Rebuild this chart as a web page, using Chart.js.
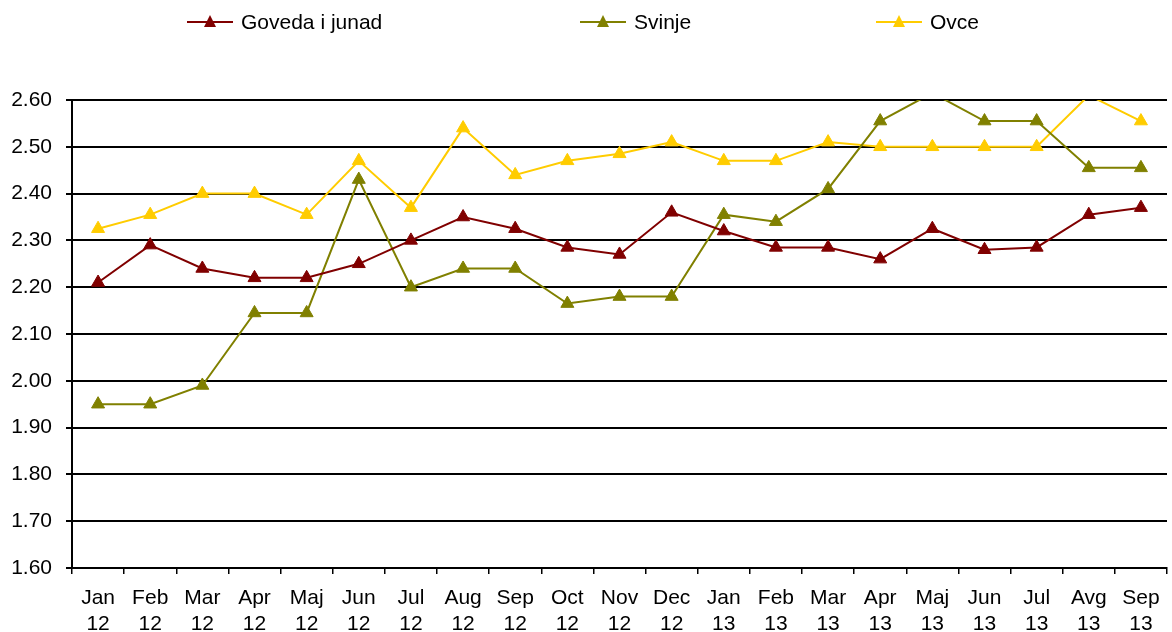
<!DOCTYPE html>
<html>
<head>
<meta charset="utf-8">
<script src="https://cdn.jsdelivr.net/npm/chart.js@4.4.0/dist/chart.umd.min.js"></script>
<style>
  body { margin: 0; background: #fff; }
  #wrap { width: 1172px; height: 632px; }
</style>
</head>
<body>
<div id="wrap"><canvas id="priceChart" width="1172" height="632"></canvas></div>
<script>
var months = ["Jan", "Feb", "Mar", "Apr", "Maj", "Jun", "Jul", "Aug", "Sep", "Oct", "Nov", "Dec",
              "Jan", "Feb", "Mar", "Apr", "Maj", "Jun", "Jul", "Avg", "Sep"];
var years = ["12", "12", "12", "12", "12", "12", "12", "12", "12", "12", "12", "12",
             "13", "13", "13", "13", "13", "13", "13", "13", "13"];

var goveda = [2.21, 2.29, 2.24, 2.22, 2.22, 2.25, 2.30, 2.35, 2.325, 2.285, 2.27, 2.36,
              2.32, 2.285, 2.285, 2.26, 2.325, 2.28, 2.285, 2.355, 2.37];
var svinje = [1.95, 1.95, 1.99, 2.145, 2.145, 2.43, 2.20, 2.24, 2.24, 2.165, 2.18, 2.18,
              2.355, 2.34, 2.41, 2.555, 2.615, 2.555, 2.555, 2.455, 2.455];
var ovce = [2.325, 2.355, 2.40, 2.40, 2.355, 2.47, 2.37, 2.54, 2.44, 2.47, 2.485, 2.51,
            2.47, 2.47, 2.51, 2.50, 2.50, 2.50, 2.50, 2.61, 2.555];

var yTicks = ["1.60", "1.70", "1.80", "1.90", "2.00", "2.10", "2.20", "2.30", "2.40", "2.50", "2.60"];

var labels = months.map(function (m, i) { return [m, years[i]]; });

var fontName = "'Liberation Sans', Arial, sans-serif";
var fontSize = 21;

function series(name, data, color) {
    return {
        label: name,
        data: data,
        borderColor: color,
        backgroundColor: color,
        borderWidth: 2,
        pointStyle: 'triangle',
        pointRadius: 7.5,
        pointBorderWidth: 1,
        pointBorderColor: color,
        pointBackgroundColor: color,
        lineTension: 0
    };
}

// legend drawn by hand so the three items sit where the original has them
var legendSpots = [187, 580, 876];
var spreadLegend = {
    id: 'spreadLegend',
    afterDraw: function (chart) {
        var c = chart.ctx;
        var y = 22;
        c.save();
        chart.data.datasets.forEach(function (ds, i) {
            var x = legendSpots[i];
            c.strokeStyle = ds.borderColor;
            c.lineWidth = 2;
            c.beginPath();
            c.moveTo(x, y);
            c.lineTo(x + 46, y);
            c.stroke();
            c.fillStyle = ds.borderColor;
            c.beginPath();
            c.moveTo(x + 23, y - 7);
            c.lineTo(x + 29, y + 5);
            c.lineTo(x + 17, y + 5);
            c.closePath();
            c.fill();
            c.fillStyle = '#000';
            c.font = fontSize + 'px ' + fontName;
            c.textBaseline = 'middle';
            c.textAlign = 'left';
            c.fillText(ds.label, x + 54, y + 1);
        });
        c.restore();
    }
};

var ctx = document.getElementById("priceChart");

var priceChart = new Chart(ctx, {
    type: 'line',
    data: {
        labels: labels,
        datasets: [
            series("Goveda i junad", goveda, "#800000"),
            series("Svinje", svinje, "#808000"),
            series("Ovce", ovce, "#FFCC00")
        ]
    },
    options: {
        responsive: false,
        animation: false,
        layout: {
            autoPadding: false,
            padding: { top: 100, left: 0, right: 5, bottom: 0 }
        },
        plugins: {
            legend: { display: false },
            tooltip: { enabled: false }
        },
        scales: {
            x: {
                offset: true,
                grid: {
                    offset: true,
                    drawOnChartArea: false,
                    drawTicks: true,
                    tickLength: 6,
                    color: '#000',
                    lineWidth: 1.5
                },
                border: { color: '#000', width: 2 },
                ticks: {
                    color: '#000',
                    font: { family: fontName, size: fontSize, lineHeight: 1.24 },
                    padding: 11,
                    maxRotation: 0,
                    autoSkip: false
                },
                afterFit: function (scale) {
                    scale.height = 64;
                    scale.paddingLeft = 0;
                    scale.paddingRight = 0;
                }
            },
            y: {
                min: 1.6,
                max: 2.6,
                grid: {
                    color: '#000',
                    lineWidth: 2,
                    tickLength: 6
                },
                border: { color: '#000', width: 2 },
                ticks: {
                    stepSize: 0.1,
                    color: '#000',
                    padding: 14,
                    font: { family: fontName, size: fontSize },
                    callback: function (value, index) { return yTicks[index]; }
                },
                afterFit: function (scale) { scale.width = 72; }
            }
        }
    },
    plugins: [spreadLegend]
});
</script>
</body>
</html>
